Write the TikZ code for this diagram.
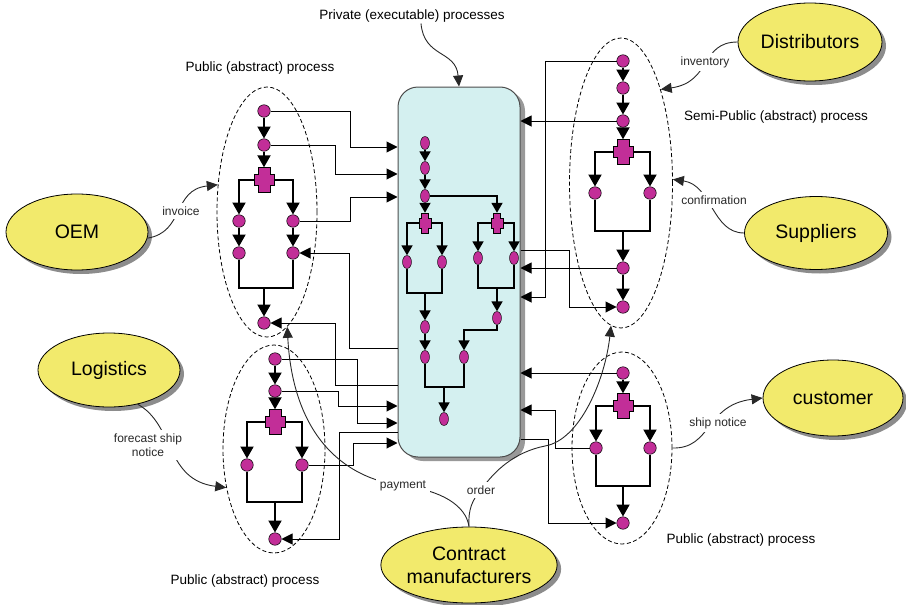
\documentclass[tikz,border=0pt]{standalone}
\usepackage{fontspec}
\setmainfont{Liberation Sans}
\usetikzlibrary{arrows.meta,shapes.geometric,shadows}

\definecolor{procmag}{RGB}{194,46,152}
\definecolor{partyyel}{RGB}{242,234,108}
\definecolor{privfill}{RGB}{212,240,240}
\definecolor{notegray}{RGB}{40,40,40}

\tikzset{
  party/.style={ellipse, draw=black, line width=0.8pt, fill=partyyel, inner sep=0pt,
    align=center, font=\fontsize{19.5}{23}\selectfont,
    drop shadow={shadow xshift=4pt, shadow yshift=-4pt, opacity=0.45, fill=black}},
  privbox/.style={rectangle, rounded corners=20pt, draw=black!70, line width=1pt, fill=privfill,
    drop shadow={shadow xshift=5pt, shadow yshift=-4pt, opacity=0.4, fill=black}},
  scopeoval/.style={ellipse, draw=black, dash pattern=on 4pt off 2.5pt, line width=0.8pt, inner sep=0pt},
  act/.style={circle, draw=black, line width=0.5pt, fill=procmag, minimum size=12.5pt, inner sep=0pt},
  sact/.style={ellipse, draw=black, line width=0.4pt, fill=procmag, minimum width=9pt, minimum height=13pt, inner sep=0pt},
  flow/.style={line width=2pt, -{Triangle[width=13pt,length=12pt]}},
  flowline/.style={line width=2pt},
  sflow/.style={line width=1.8pt, -{Triangle[width=11pt,length=10pt]}},
  sflowline/.style={line width=1.8pt},
  msg/.style={line width=1pt, -{Triangle[width=11pt,length=11pt]}},
  note/.style={line width=0.9pt, draw=notegray, -{Triangle[width=10pt,length=11pt]}},
  notelbl/.style={font=\fontsize{12}{14}\selectfont, text=notegray, fill=white, inner sep=3.5pt, align=center},
  proclbl/.style={font=\fontsize{13.5}{16}\selectfont, inner sep=1pt},
}

% AND-split marker: name, x, y, half width / half height of the vertical bar,
% half width / half height of the horizontal bar
\newcommand\andsplit[7]{%
  \node[inner sep=0pt, minimum width=#6pt*2, minimum height=#5pt*2] (#1) at (#2,#3) {};
  \filldraw[fill=procmag, draw=black, line width=0.4pt]
    ([shift={(-#4,-#5)}]#1.center) -- ++(2*#4,0) -- ++(0,#5-#7) -- ++(#6-#4,0)
    -- ++(0,2*#7) -- ++(#4-#6,0) -- ++(0,#5-#7) -- ++(-2*#4,0) -- ++(0,#7-#5)
    -- ++(#4-#6,0) -- ++(0,-2*#7) -- ++(#6-#4,0) -- cycle;
}

\begin{document}
\begin{tikzpicture}[x=1pt,y=-1pt]
\useasboundingbox (0,0) rectangle (906,605);

% ---------- partners ----------
\node[party, minimum width=142pt, minimum height=76pt] (oem)  at (77,232)  {OEM};
\node[party, minimum width=142pt, minimum height=74pt] (logi) at (109,370) {Logistics};
\node[party, minimum width=144pt, minimum height=78pt] (dist) at (810,42)  {Distributors};
\node[party, minimum width=143pt, minimum height=73pt] (supp) at (816,233) {Suppliers};
\node[party, minimum width=140pt, minimum height=76pt] (cust) at (833,398) {customer};
\node[party, minimum width=142pt, minimum height=76pt] (cman) at (469,565) {Contract\\manufacturers};

% ---------- private process container ----------
\node[privbox, minimum width=122pt, minimum height=370pt] (priv) at (459,272) {};

% ---------- process boundaries ----------
\node[scopeoval, minimum width=100pt, minimum height=250pt] (pubTL)  at (267,212) {};
\node[scopeoval, minimum width=102pt, minimum height=208pt] (pubBL)  at (274,449) {};
\node[scopeoval, minimum width=103pt, minimum height=290pt] (semiTR) at (621,183) {};
\node[scopeoval, minimum width=100pt, minimum height=192pt] (pubBR)  at (622,448) {};

% ---------- public process, top left ----------
\node[act] (n1)  at (264,111) {};
\node[act] (n2)  at (264,145) {};
\andsplit{tlX}{264}{180}{6}{12.5}{10}{5.5}
\node[act] (n3L) at (239,221) {};
\node[act] (n3R) at (293,221) {};
\node[act] (n4L) at (239,253) {};
\node[act] (n4R) at (293,253) {};
\coordinate (tlJ) at (264,288);
\node[act] (n5)  at (264,323) {};
\draw[flow] (n1) -- (n2);
\draw[flow] (n2) -- (tlX.north);
\draw[flow] (tlX.west) -| (n3L);
\draw[flow] (tlX.east) -| (n3R);
\draw[flow] (n3L) -- (n4L);
\draw[flow] (n3R) -- (n4R);
\draw[flowline] (n4L) |- (tlJ) -| (n4R);
\draw[flow] (tlJ) -- (n5);

% ---------- public process, bottom left ----------
\node[act] (l1)  at (275,359) {};
\node[act] (l2)  at (275,391) {};
\andsplit{blX}{275}{422}{6}{12.5}{10}{5.5}
\node[act] (l3L) at (247,465) {};
\node[act] (l3R) at (302,465) {};
\coordinate (blJ) at (275,502);
\node[act] (l4)  at (275,539) {};
\draw[flow] (l1) -- (l2);
\draw[flow] (l2) -- (blX.north);
\draw[flow] (blX.west) -| (l3L);
\draw[flow] (blX.east) -| (l3R);
\draw[flowline] (l3L) |- (blJ) -| (l3R);
\draw[flow] (blJ) -- (l4);

% ---------- semi-public process, top right ----------
\node[act] (r1)  at (623,61) {};
\node[act] (r2)  at (623,88) {};
\node[act] (r3)  at (623,121) {};
\andsplit{trX}{623}{152}{6}{12.5}{10}{5.5}
\node[act] (r4L) at (595,193) {};
\node[act] (r4R) at (650,193) {};
\coordinate (trJ) at (623,231);
\node[act] (r5)  at (623,268) {};
\node[act] (r6)  at (623,307) {};
\draw[flow] (r1) -- (r2);
\draw[flow] (r2) -- (r3);
\draw[flow] (r3) -- (trX.north);
\draw[flow] (trX.west) -| (r4L);
\draw[flow] (trX.east) -| (r4R);
\draw[flowline] (r4L) |- (trJ) -| (r4R);
\draw[flow] (trJ) -- (r5);
\draw[flow] (r5) -- (r6);

% ---------- public process, bottom right ----------
\node[act] (b1)  at (623,373) {};
\andsplit{brX}{623}{406}{6}{12.5}{10}{5.5}
\node[act] (b2L) at (596,448) {};
\node[act] (b2R) at (650,448) {};
\coordinate (brJ) at (623,486);
\node[act] (b3)  at (623,523) {};
\draw[flow] (b1) -- (brX.north);
\draw[flow] (brX.west) -| (b2L);
\draw[flow] (brX.east) -| (b2R);
\draw[flowline] (b2L) |- (brJ) -| (b2R);
\draw[flow] (brJ) -- (b3);

% ---------- private (executable) process ----------
\node[sact] (c1)  at (425,143) {};
\node[sact] (c2)  at (425,168) {};
\node[sact] (c3)  at (425,196) {};
\andsplit{cX1}{425}{223}{3.5}{10}{6}{5}
\andsplit{cX2}{497}{223}{3.5}{10}{6}{5}
\node[sact] (c4L) at (407,262) {};
\node[sact] (c4R) at (442,262) {};
\node[sact] (c5L) at (478,258) {};
\node[sact] (c5R) at (514,258) {};
\coordinate (cJ1) at (425,293);
\node[sact] (c6)  at (425,327) {};
\node[sact] (c7)  at (425,357) {};
\coordinate (cJ2) at (497,288);
\node[sact] (c8)  at (497,318) {};
\coordinate (cB)  at (464,330);
\node[sact] (c9)  at (464,357) {};
\coordinate (cJ3) at (444,387);
\node[sact] (c10) at (444,419) {};
\draw[sflow] (c1) -- (c2);
\draw[sflow] (c2) -- (c3);
\draw[sflow] (c3) -- (cX1.north);
\draw[sflow] (c3.east) -| (cX2.north);
\draw[sflow] (cX1.west) -| (c4L);
\draw[sflow] (cX1.east) -| (c4R);
\draw[sflow] (cX2.west) -| (c5L);
\draw[sflow] (cX2.east) -| (c5R);
\draw[sflowline] (c4L) |- (cJ1) -| (c4R);
\draw[sflow] (cJ1) -- (c6);
\draw[sflow] (c6) -- (c7);
\draw[sflowline] (c5L) |- (cJ2) -| (c5R);
\draw[sflow] (cJ2) -- (c8);
\draw[sflow] (c8) |- (cB) -- (c9);
\draw[sflowline] (c7) |- (cJ3) -| (c9);
\draw[sflow] (cJ3) -- (c10);

% ---------- message links, left side ----------
\draw[msg] (n1.east) -| (350,147) -- (priv.west |- 0,147);
\draw[msg] (n2.east) -| (335,174) -- (priv.west |- 0,174);
\draw[msg] (n3R.east) -| (350,197) -- (priv.west |- 0,197);
\draw[msg] (priv.west |- 0,348) -| (349,253) -- (n4R.east);
\draw[msg] (priv.west |- 0,385) -| (335,323) -- (n5.east);
\draw[msg] (l1.east) -| (357,423) -- (priv.west |- 0,423);
\draw[msg] (l2.east) -| (338,406) -- (priv.west |- 0,406);
\draw[msg] (l3R.east) -| (353,443) -- (priv.west |- 0,443);
\draw[msg] (priv.west |- 0,432) -| (339,539) -- (l4.east);

% ---------- message links, right side ----------
\draw[msg] (r1.west) -| (545,297) -- (priv.east |- 0,297);
\draw[msg] (r3.west) -- (priv.east |- r3);
\draw[msg] (r5.west) -- (priv.east |- r5);
\draw[msg] (priv.east |- 0,250) -| (569,307) -- (r6.west);
\draw[msg] (b1.west) -- (priv.east |- b1);
\draw[msg] (b2L.west) -| (555,410) -- (priv.east |- 0,410);
\draw[msg] (priv.east |- 0,439) -| (548,523) -- (b3.west);

% ---------- process captions ----------
\node[proclbl] (capPriv) at (412,16)  {Private (executable) processes};
\node[proclbl] (capTL)   at (260,68)  {Public (abstract) process};
\node[proclbl] (capTR)   at (776,117) {Semi-Public (abstract) process};
\node[proclbl] (capBR)   at (741,540) {Public (abstract) process};
\node[proclbl] (capBL)   at (245,581) {Public (abstract) process};

% ---------- annotated exchanges ----------
\draw[note] ([xshift=9pt]capPriv.south) .. controls (424,58) and (456,50) .. (priv.north);

\coordinate (invAt) at (181,211);
\coordinate (fcAt)  at (148,445);
\coordinate (ivAt)  at (705,62);
\coordinate (cfAt)  at (714,200);
\coordinate (snAt)  at (718,423);
\coordinate (payAt) at (403,486);
\coordinate (ordAt) at (481,490);

\draw[note] (oem.355) .. controls (185,232) and (172,190) .. (pubTL.151);
\draw[note] (logi.310) .. controls (175,425) and (165,480) .. (pubBL.219);
\draw[note] (dist.west) .. controls (700,42) and (712,82) .. (semiTR.67);
\draw[note] (supp.west) .. controls (712,233) and (712,185) .. (semiTR.4);
\draw[note] (pubBR.east) .. controls (712,449) and (705,405) .. (cust.west);
\draw[note] (cman.north) .. controls (466,505) and (440,490) .. (payAt)
            .. controls (330,476) and (292,420) .. (pubTL.280);
\draw[note] (cman.north) .. controls (468,510) and (472,500) .. (ordAt)
            .. controls (495,470) and (515,452) .. (545,446)
            .. controls (580,440) and (605,380) .. (semiTR.266);

\node[notelbl] (invLbl) at (invAt) {invoice};
\node[notelbl] (fcLbl)  at (fcAt)  {forecast ship\\notice};
\node[notelbl] (ivLbl)  at (ivAt)  {inventory};
\node[notelbl] (cfLbl)  at (cfAt)  {confirmation};
\node[notelbl] (snLbl)  at (snAt)  {ship notice};
\node[notelbl] (payLbl) at (payAt) {payment};
\node[notelbl] (ordLbl) at (ordAt) {order};
\end{tikzpicture}
\end{document}
